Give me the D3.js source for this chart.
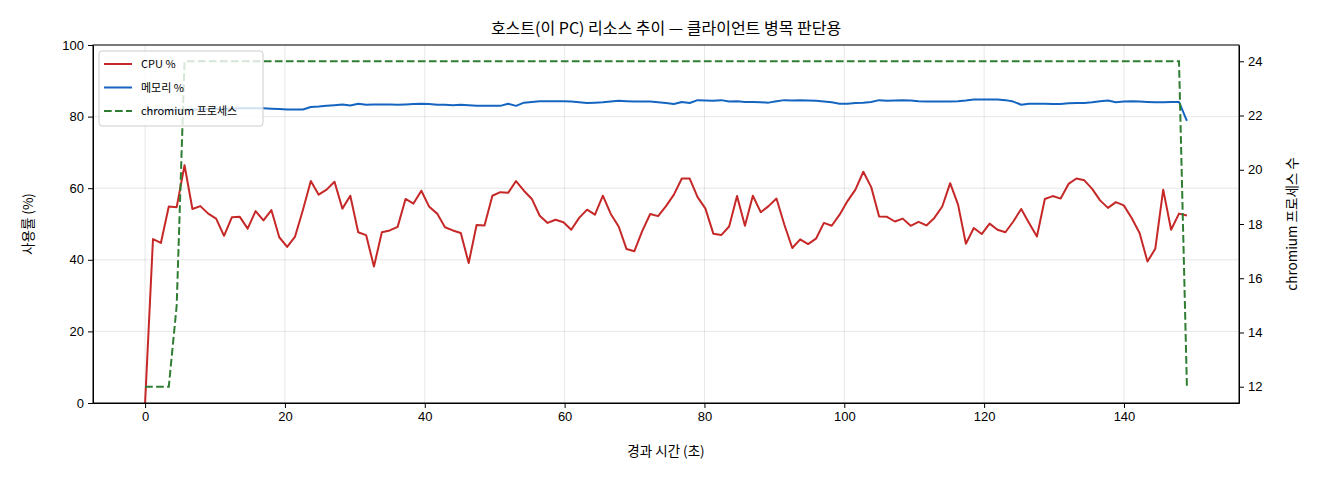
<!DOCTYPE html>
<html>
<head>
<meta charset="utf-8">
<script src="https://cdn.jsdelivr.net/npm/d3@7"></script>
<style>
  body { margin: 0; background: #fff; }
  svg { font-family: "Noto Sans CJK KR", "Noto Sans", sans-serif; }
  .grid line { stroke: #b0b0b0; stroke-opacity: 0.3; }
  .axis text { font-size: 13px; fill: #000; }
  .axis path, .axis line { stroke: #000; }
</style>
</head>
<body>
<div id="canvas"></div>
<script>
// elapsed seconds for each sample
const times = [
  0, 1.13, 2.26, 3.39, 4.52, 5.64, 6.77, 7.90, 9.03, 10.16, 11.29, 12.42, 13.55, 14.67, 15.80, 16.93, 18.06, 19.19, 20.32, 21.45,
  22.58, 23.70, 24.83, 25.96, 27.09, 28.22, 29.35, 30.48, 31.61, 32.73, 33.86, 34.99, 36.12, 37.25, 38.38, 39.51, 40.64, 41.77, 42.89, 44.02,
  45.15, 46.28, 47.41, 48.54, 49.67, 50.80, 51.92, 53.05, 54.18, 55.31, 56.44, 57.57, 58.70, 59.83, 60.95, 62.08, 63.21, 64.34, 65.47, 66.60,
  67.73, 68.86, 69.98, 71.11, 72.24, 73.37, 74.50, 75.63, 76.76, 77.89, 79.02, 80.14, 81.27, 82.40, 83.53, 84.66, 85.79, 86.92, 88.05, 89.17,
  90.30, 91.43, 92.56, 93.69, 94.82, 95.95, 97.08, 98.20, 99.33, 100.46, 101.59, 102.72, 103.85, 104.98, 106.11, 107.23, 108.36, 109.49, 110.62, 111.75,
  112.88, 114.01, 115.14, 116.27, 117.39, 118.52, 119.65, 120.78, 121.91, 123.04, 124.17, 125.30, 126.42, 127.55, 128.68, 129.81, 130.94, 132.07, 133.20, 134.33,
  135.45, 136.58, 137.71, 138.84, 139.97, 141.10, 142.23, 143.36, 144.48, 145.61, 146.74, 147.87, 149.00
];

const cpu = [
  0, 45.8, 44.7, 54.9, 54.7, 66.4, 54.2, 55.0, 52.9, 51.5, 46.7, 51.9, 52.0, 48.7, 53.6, 51.0, 53.9, 46.3, 43.6, 46.5,
  54.0, 62.0, 58.2, 59.6, 61.8, 54.3, 57.9, 47.7, 46.9, 38.1, 47.7, 48.2, 49.2, 57.0, 55.7, 59.3, 54.8, 52.9,
  49.1, 48.2, 47.5, 39.1, 49.7, 49.6, 57.9, 58.9, 58.7, 62.0, 59.3, 57.0, 52.3, 50.3, 51.2, 50.5, 48.4, 51.7, 54.0,
  52.6, 57.9, 52.8, 49.3, 43.0, 42.4, 48.1, 52.8, 52.2, 55.0, 58.2, 62.7, 62.7, 57.5, 54.3, 47.3, 46.9, 49.3, 57.8,
  49.5, 57.9, 53.3, 55.0, 57.1, 49.8, 43.3, 45.7, 44.4, 45.9, 50.3, 49.5, 52.6, 56.4, 59.6, 64.6, 60.3, 52.1, 52.0,
  50.7, 51.5, 49.5, 50.6, 49.6, 51.7, 54.9, 61.4, 55.4, 44.5, 48.9, 47.2, 50.1, 48.4, 47.7, 50.7, 54.2, 50.3, 46.5,
  57.0, 57.8, 57.1, 61.2, 62.7, 62.2, 59.8, 56.6, 54.5, 56.1, 55.2, 51.7, 47.5, 39.5, 43.1, 59.6, 48.4, 52.9, 52.4
];

const memory = [
  81.6, 81.7, 81.8, 81.8, 81.9, 81.9, 82.0, 82.0, 82.1, 82.1, 82.2, 82.2, 82.3, 82.3, 82.3, 82.3, 82.2, 82.1,
  82.0, 82.0, 82.0, 82.7, 82.8, 83.0, 83.2, 83.4, 83.1, 83.6, 83.3, 83.35, 83.4, 83.4, 83.3, 83.4, 83.5, 83.6, 83.5, 83.3,
  83.3, 83.2, 83.3, 83.2, 83.0, 83.0, 83.0, 83.0, 83.6, 83.0, 83.9, 84.1, 84.3, 84.3, 84.3, 84.3, 84.2, 84.0, 83.8,
  83.9, 84.0, 84.2, 84.4, 84.3, 84.2, 84.2, 84.2, 84.0, 83.8, 83.5, 84.1, 83.8, 84.6, 84.5, 84.4, 84.6, 84.2, 84.3,
  84.1, 84.1, 84.0, 83.9, 84.3, 84.6, 84.5, 84.6, 84.5, 84.4, 84.2, 84.0, 83.6, 83.6, 83.8, 83.9, 84.1, 84.6, 84.4,
  84.5, 84.6, 84.5, 84.3, 84.2, 84.2, 84.2, 84.2, 84.3, 84.5, 84.8, 84.8, 84.8, 84.8, 84.6, 84.2, 83.3, 83.6, 83.6,
  83.6, 83.55, 83.5, 83.7, 83.8, 83.8, 84.0, 84.3, 84.5, 84.0, 84.2, 84.3, 84.2, 84.1, 84.0, 84.0, 84.1, 84.1, 78.8
];

const chromium = [
  12, 12, 12, 12, 15, 24, 24, 24, 24, 24, 24, 24, 24, 24, 24, 24, 24, 24, 24, 24,
  24, 24, 24, 24, 24, 24, 24, 24, 24, 24, 24, 24, 24, 24, 24, 24, 24, 24, 24, 24,
  24, 24, 24, 24, 24, 24, 24, 24, 24, 24, 24, 24, 24, 24, 24, 24, 24, 24, 24, 24,
  24, 24, 24, 24, 24, 24, 24, 24, 24, 24, 24, 24, 24, 24, 24, 24, 24, 24, 24, 24,
  24, 24, 24, 24, 24, 24, 24, 24, 24, 24, 24, 24, 24, 24, 24, 24, 24, 24, 24, 24,
  24, 24, 24, 24, 24, 24, 24, 24, 24, 24, 24, 24, 24, 24, 24, 24, 24, 24, 24, 24,
  24, 24, 24, 24, 24, 24, 24, 24, 24, 24, 24, 24, 12
];

const xTicks = [0, 20, 40, 60, 80, 100, 120, 140];
const yLeftTicks = [0, 20, 40, 60, 80, 100];
const yRightTicks = [12, 14, 16, 18, 20, 22, 24];

const seriesInfo = [
  { name: "CPU %", color: "#c62828", dash: null },
  { name: "메모리 %", color: "#1565c0", dash: null },
  { name: "chromium 프로세스", color: "#2e7d32", dash: "7.7,3.3" }
];

const width = 1320;
const height = 480;
const margin = { top: 45, left: 93, bottom: 77, right: 81 };
const iwidth = width - margin.left - margin.right;
const iheight = height - margin.top - margin.bottom;

const svg = d3.select("#canvas").append("svg")
  .attr("width", width)
  .attr("height", height);

const g = svg.append("g").attr("transform", `translate(${margin.left},${margin.top})`);

// matplotlib style 5% margins on x and on the right axis
const tSpan = d3.max(times) - d3.min(times);
const x = d3.scaleLinear()
  .domain([d3.min(times) - tSpan * 0.05, d3.max(times) + tSpan * 0.05])
  .range([0, iwidth]);

const y = d3.scaleLinear().domain([0, 100]).range([iheight, 0]);

const cSpan = d3.max(chromium) - d3.min(chromium);
const y2 = d3.scaleLinear()
  .domain([d3.min(chromium) - cSpan * 0.05, d3.max(chromium) + cSpan * 0.05])
  .range([iheight, 0]);

// grid
g.append("g").attr("class", "grid")
  .selectAll("line").data(xTicks).enter().append("line")
  .attr("x1", d => x(d)).attr("x2", d => x(d))
  .attr("y1", 0).attr("y2", iheight);

g.append("g").attr("class", "grid")
  .selectAll("line").data(yLeftTicks).enter().append("line")
  .attr("x1", 0).attr("x2", iwidth)
  .attr("y1", d => y(d)).attr("y2", d => y(d));

const lineLeft = vals => d3.line()
  .x((d, i) => x(times[i]))
  .y(d => y(d))(vals);

g.append("path")
  .attr("d", lineLeft(cpu))
  .attr("fill", "none")
  .attr("stroke", seriesInfo[0].color)
  .attr("stroke-width", 2)
  .attr("stroke-linejoin", "round");

g.append("path")
  .attr("d", lineLeft(memory))
  .attr("fill", "none")
  .attr("stroke", seriesInfo[1].color)
  .attr("stroke-width", 2)
  .attr("stroke-linejoin", "round");

g.append("path")
  .attr("d", d3.line().x((d, i) => x(times[i])).y(d => y2(d))(chromium))
  .attr("fill", "none")
  .attr("stroke", seriesInfo[2].color)
  .attr("stroke-width", 2)
  .attr("stroke-dasharray", seriesInfo[2].dash);

// axes
g.append("g")
  .attr("class", "axis")
  .attr("transform", `translate(0,${iheight})`)
  .call(d3.axisBottom(x).tickValues(xTicks).tickSize(5).tickSizeOuter(0).tickPadding(4).tickFormat(d3.format("d")));

g.append("g")
  .attr("class", "axis")
  .call(d3.axisLeft(y).tickValues(yLeftTicks).tickSize(5).tickSizeOuter(0).tickPadding(4).tickFormat(d3.format("d")));

g.append("g")
  .attr("class", "axis")
  .attr("transform", `translate(${iwidth},0)`)
  .call(d3.axisRight(y2).tickValues(yRightTicks).tickSize(5).tickSizeOuter(0).tickPadding(4).tickFormat(d3.format("d")));

// frame
g.append("rect")
  .attr("width", iwidth).attr("height", iheight)
  .attr("fill", "none").attr("stroke", "#000").attr("stroke-width", 1);

// texts
svg.append("text")
  .attr("x", margin.left + iwidth / 2).attr("y", 34)
  .attr("text-anchor", "middle")
  .style("font-size", "16px")
  .text("호스트(이 PC) 리소스 추이 — 클라이언트 병목 판단용");

svg.append("text")
  .attr("x", margin.left + iwidth / 2).attr("y", 456)
  .attr("text-anchor", "middle")
  .style("font-size", "13.5px")
  .text("경과 시간 (초)");

svg.append("text")
  .attr("transform", `translate(33,${margin.top + iheight / 2}) rotate(-90)`)
  .attr("text-anchor", "middle")
  .style("font-size", "13.5px")
  .text("사용률 (%)");

svg.append("text")
  .attr("transform", `translate(1297,${margin.top + iheight / 2}) rotate(-90)`)
  .attr("text-anchor", "middle")
  .style("font-size", "13.5px")
  .text("chromium 프로세스 수");

// legend
const legend = g.append("g").attr("transform", "translate(6,6)");
legend.append("rect")
  .attr("width", 164).attr("height", 75)
  .attr("rx", 3)
  .attr("fill", "#fff").attr("fill-opacity", 0.8)
  .attr("stroke", "#ccc");

const items = legend.selectAll("g.item").data(seriesInfo).enter().append("g")
  .attr("transform", (d, i) => `translate(0,${13 + i * 23.5})`);

items.append("line")
  .attr("x1", 5).attr("x2", 33)
  .attr("stroke", d => d.color)
  .attr("stroke-width", 2)
  .attr("stroke-dasharray", d => d.dash);

items.append("text")
  .attr("x", 42).attr("y", 4)
  .style("font-size", "11px")
  .text(d => d.name);
</script>
</body>
</html>
